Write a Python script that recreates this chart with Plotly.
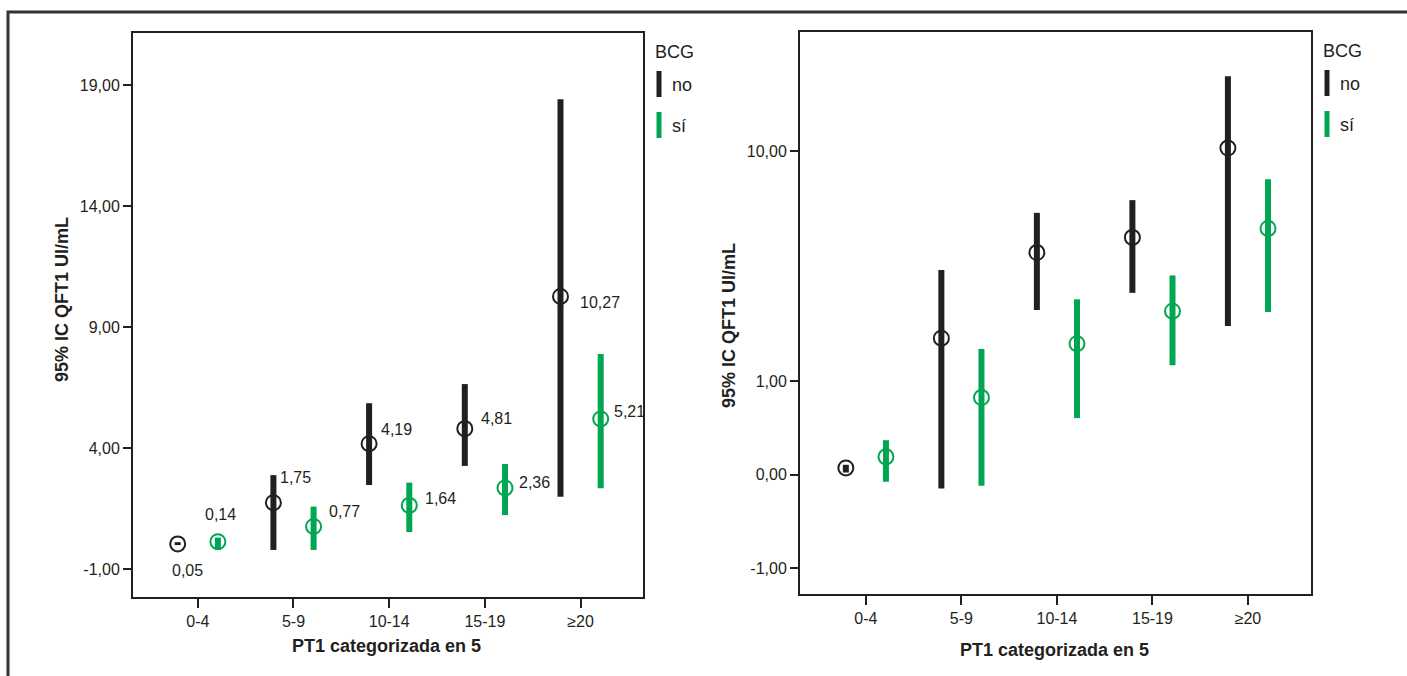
import numpy as np
import plotly.graph_objects as go

# ---------------- data ----------------
categories = ["0-4", "5-9", "10-14", "15-19", "≥20"]
mean_no = [0.05, 1.75, 4.19, 4.81, 10.27]
mean_si = [0.14, 0.77, 1.64, 2.36, 5.21]

# left panel (linear scale): 95% CI limits
left_low_no = [0.00, -0.20, 2.48, 3.27, 2.00]
left_high_no = [0.12, 2.89, 5.86, 6.65, 18.41]
left_low_si = [-0.20, -0.20, 0.54, 1.24, 2.35]
left_high_si = [0.31, 1.59, 2.58, 3.35, 7.89]

# right panel (safe-log scale): 95% CI limits
right_low_no = [0.015, -0.11, 2.39, 2.85, 2.01]
right_high_no = [0.075, 3.56, 5.97, 6.66, 18.2]
right_low_si = [-0.055, -0.087, 0.52, 1.25, 2.34]
right_high_si = [0.29, 1.54, 2.67, 3.38, 7.95]

left_yticks = [-1, 4, 9, 14, 19]
right_yticks = [-1, 0, 1, 10]

groups = ["no", "sí"]
# ---------------- style ----------------
W, H = 1407, 676
BLACK = "#231f20"
GREEN = "#00a651"
FONT = "Liberation Sans, Arial, Helvetica, sans-serif"
OFF = 0.21

def fmt(v):
    return f"{v:.2f}".replace(".", ",")

def slog(v):
    v = np.asarray(v, dtype=float)
    return np.sign(v) * np.log10(1 + np.abs(v))

fig = go.Figure()

def add_panel(xa, ya, means, lows, highs, transform):
    for g, (m, lo, hi, col, off) in enumerate(zip(means, lows, highs, [BLACK, GREEN], [-OFF, OFF])):
        mt, lot, hit = transform(m), transform(lo), transform(hi)
        xs = [i + off for i in range(len(categories))]
        fig.add_trace(go.Scatter(
            x=xs, y=mt, xaxis=xa, yaxis=ya, mode="markers",
            marker=dict(symbol="circle-open", size=15, color=col, line=dict(width=2, color=col)),
            error_y=dict(type="data", symmetric=False, array=np.asarray(hit) - np.asarray(mt),
                         arrayminus=np.asarray(mt) - np.asarray(lot), color=col, thickness=6, width=0),
            hoverinfo="skip", showlegend=False, name=groups[g]))

ident = lambda v: np.asarray(v, dtype=float)
add_panel("x", "y", [mean_no, mean_si], [left_low_no, left_low_si], [left_high_no, left_high_si], ident)
add_panel("x2", "y2", [mean_no, mean_si], [right_low_no, right_low_si], [right_high_no, right_high_si], slog)

# panel geometry (pixels)
L_box = dict(x0=133, x1=643, top=33, bottom=597)
R_box = dict(x0=800, x1=1311, top=32, bottom=594)

def xdom(b):
    return [b["x0"] / W, b["x1"] / W]

def ydom(b):
    return [(H - b["bottom"]) / H, (H - b["top"]) / H]

axis_common = dict(showline=True, mirror=True, linecolor=BLACK, linewidth=2, showgrid=False,
                   zeroline=False, ticks="outside", tickcolor=BLACK, tickwidth=1.5,
                   tickfont=dict(family=FONT, size=16, color=BLACK), fixedrange=True)

fig.update_layout(
    width=W, height=H, margin=dict(l=0, r=0, t=0, b=0),
    paper_bgcolor="white", plot_bgcolor="white",
    xaxis=dict(domain=xdom(L_box), range=[-0.677, 4.652], tickvals=list(range(5)), ticktext=categories,
               anchor="y", ticklen=9, **axis_common),
    yaxis=dict(domain=ydom(L_box), range=[-2.144, 21.15], tickvals=left_yticks,
               ticktext=[fmt(v) for v in left_yticks], anchor="x", ticklen=8, **axis_common),
    xaxis2=dict(domain=xdom(R_box), range=[-0.69, 4.66], tickvals=list(range(5)), ticktext=categories,
                anchor="y2", ticklen=9, **axis_common),
    yaxis2=dict(domain=ydom(R_box), range=[-0.385, 1.426], tickvals=list(slog(right_yticks)),
                ticktext=[fmt(v) for v in right_yticks], anchor="x2", ticklen=8, **axis_common),
)

# value labels on left panel: (xanchor, xshift, yshift)
label_pos_no = [("center", 10, -27), ("left", 5, 25), ("left", 10, 14), ("left", 14, 10), ("left", 17, -6)]
label_pos_si = [("center", 3, 27), ("left", 13, 15), ("left", 14, 7), ("left", 12, 5), ("left", 11, 7)]
annotations = []
for means, pos, off in [(mean_no, label_pos_no, -OFF), (mean_si, label_pos_si, OFF)]:
    for i, (v, (xa, xs, ys)) in enumerate(zip(means, pos)):
        annotations.append(dict(x=i + off, y=v, xref="x", yref="y", text=fmt(v), showarrow=False,
                                xanchor=xa, yanchor="middle", xshift=xs, yshift=ys,
                                font=dict(family=FONT, size=16, color=BLACK)))

def px(xp):
    return xp / W

def py(yp):
    return (H - yp) / H

title_font = dict(family=FONT, size=18, color=BLACK)
shapes = []
for box, ytc, xtc, xtx in [(L_box, 300, 386, 646), (R_box, 325, 1054, 650)]:
    ytx = box["x0"] - 71
    annotations.append(dict(x=px(ytx), y=py(ytc), xref="paper", yref="paper", text="<b>95% IC QFT1 UI/mL</b>",
                            showarrow=False, textangle=-90, xanchor="center", yanchor="middle", font=title_font))
    annotations.append(dict(x=px(xtc), y=py(xtx), xref="paper", yref="paper", text="<b>PT1 categorizada en 5</b>",
                            showarrow=False, xanchor="center", yanchor="middle", font=title_font))
    # legend
    r = box["x1"]
    top = box["top"]
    annotations.append(dict(x=px(r + 10), y=py(top + 19), xref="paper", yref="paper", text="BCG",
                            showarrow=False, xanchor="left", yanchor="middle",
                            font=dict(family=FONT, size=18, color=BLACK)))
    for k, (name, col) in enumerate(zip(groups, [BLACK, GREEN])):
        yc = top + 51 + k * 41
        shapes.append(dict(type="line", xref="paper", yref="paper", x0=px(r + 16), x1=px(r + 16),
                           y0=py(yc - 13), y1=py(yc + 13), line=dict(color=col, width=5)))
        annotations.append(dict(x=px(r + 27), y=py(yc + 1), xref="paper", yref="paper", text=name,
                                showarrow=False, xanchor="left", yanchor="middle",
                                font=dict(family=FONT, size=18, color=BLACK)))

# outer frame
shapes.append(dict(type="rect", xref="paper", yref="paper", x0=px(8), x1=1.02, y0=-0.05, y1=py(12),
                   line=dict(color="#333333", width=3), layer="below"))

fig.update_layout(annotations=annotations, shapes=shapes)
fig.write_html("out.html", config={"displayModeBar": False})
